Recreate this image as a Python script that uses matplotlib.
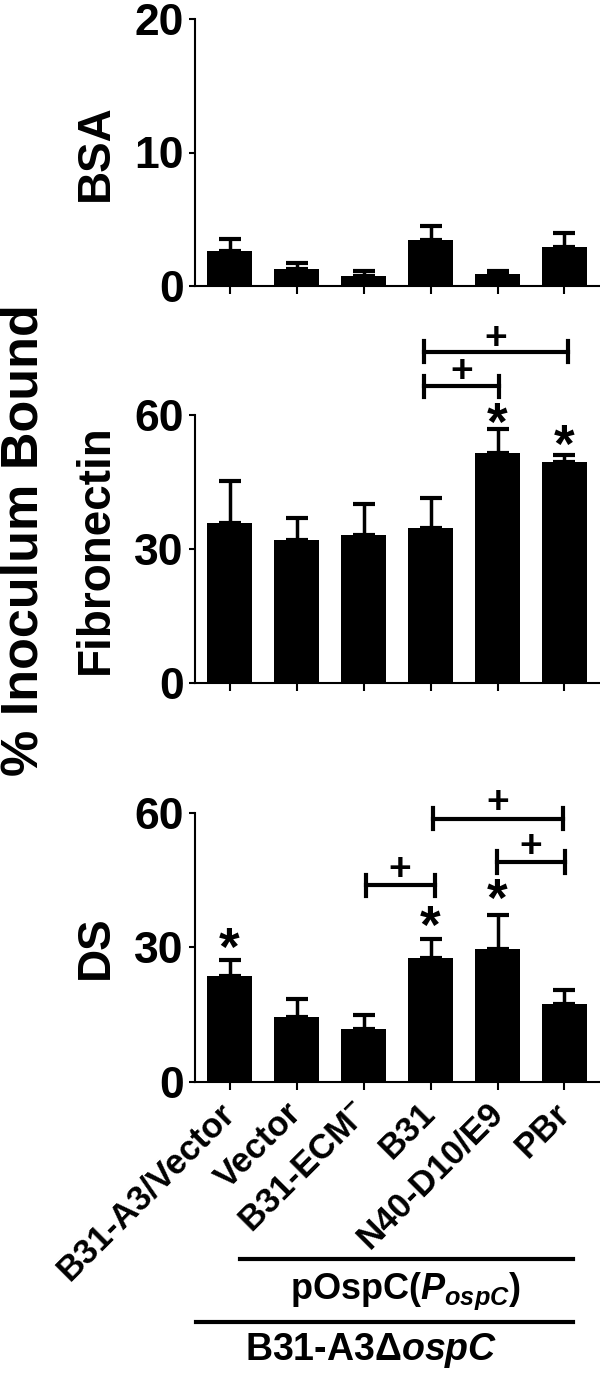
import numpy as np
import matplotlib
matplotlib.use("Agg")
from matplotlib import pyplot as plt
from matplotlib import transforms

plt.rcParams['font.family'] = ['Liberation Sans', 'DejaVu Sans']
plt.rcParams['font.weight'] = 'bold'
plt.rcParams['mathtext.fontset'] = 'custom'
plt.rcParams['mathtext.rm'] = 'Liberation Sans:bold'
plt.rcParams['mathtext.it'] = 'Liberation Sans:italic:bold'
plt.rcParams['mathtext.bf'] = 'Liberation Sans:bold'

# strains on the x axis
strains = ['B31-A3/Vector', 'Vector', 'B31-ECM$^{-}$', 'B31', 'N40-D10/E9', 'PBr']

# mean % inoculum bound and upper SD for each substrate
bsa_mean = [2.6, 1.3, 0.75, 3.45, 0.9, 2.9]
bsa_err = [0.9, 0.45, 0.4, 1.05, 0.2, 1.1]
fn_mean = [35.9, 31.9, 33.2, 34.7, 51.5, 49.4]
fn_err = [9.2, 5.1, 6.9, 6.7, 5.4, 1.7]
ds_mean = [23.6, 14.5, 11.8, 27.7, 29.6, 17.4]
ds_err = [3.5, 3.9, 3.1, 4.2, 7.5, 3.0]

# significance marks: stars (bar index, y) and brackets (x0, x1, y, plus y)
fn_stars = [(4, 59.9), (5, 55.0)]
fn_brackets = [(2.9, 4.02, 66.4, 70.4), (2.9, 5.05, 74.2, 77.8)]
ds_stars = [(0, 31.5), (3, 36.4), (4, 42.3)]
ds_brackets = [(2.03, 3.06, 43.8, 47.9), (3.03, 4.98, 58.7, 62.8), (3.99, 5.01, 49.0, 53.0)]

W, H = 600, 1373
fig = plt.figure(figsize=(W / 100, H / 100), dpi=100)


def panel(top, bottom, mean, err, ymax, yticks, label):
    ax = fig.add_axes([195 / W, 1 - bottom / H, 405 / W, (bottom - top) / H])
    x = np.arange(len(mean))
    ax.bar(x, mean, width=0.66, color='black', zorder=2)
    ax.errorbar(x, mean, yerr=[np.zeros(len(err)), err], fmt='none', ecolor='black',
                elinewidth=2.5, capsize=8, capthick=3, zorder=1)
    ax.set_xlim(-0.516, 5.53)
    ax.set_ylim(0, ymax)
    ax.set_yticks(yticks)
    ax.set_yticklabels([str(t) for t in yticks], fontsize=32, fontweight='bold')
    ax.set_xticks(x)
    ax.set_xticklabels([])
    for s in ['top', 'right']:
        ax.spines[s].set_visible(False)
    for s in ['left', 'bottom']:
        ax.spines[s].set_linewidth(1.5)
    ax.tick_params(axis='y', length=4, width=1.5, pad=4)
    ax.tick_params(axis='x', length=6, width=1.5)
    ax.set_ylabel(label, fontsize=33, fontweight='bold')
    ax.yaxis.set_label_coords(-0.19, 0.5)
    return ax


def marks(ax, stars, brackets):
    star_tr = transforms.offset_copy(ax.transData, fig=fig, y=-17.5, units='points')
    plus_tr = transforms.offset_copy(ax.transData, fig=fig, y=-9.5, units='points')
    for i, y in stars:
        ax.text(i, y, '*', fontsize=38, fontweight='bold', ha='center', va='baseline',
                transform=star_tr, clip_on=False)
    for x0, x1, y, py in brackets:
        ax.plot([x0, x1], [y, y], color='black', lw=3, clip_on=False)
        for xe in (x0, x1):
            ax.plot([xe, xe], [y - 2.4, y + 2.4], color='black', lw=3, clip_on=False)
        ax.text((x0 + x1) / 2, py, '+', fontsize=28, fontweight='bold', ha='center',
                va='baseline', transform=plus_tr, clip_on=False)


ax1 = panel(19, 286, bsa_mean, bsa_err, 20, [0, 10, 20], 'BSA')
ax2 = panel(415, 682.7, fn_mean, fn_err, 60, [0, 30, 60], 'Fibronectin')
marks(ax2, fn_stars, fn_brackets)
ax3 = panel(812.7, 1081.7, ds_mean, ds_err, 60, [0, 30, 60], 'DS')
marks(ax3, ds_stars, ds_brackets)

ax3.set_xticklabels(strains, rotation=45, ha='right', va='center', rotation_mode='anchor',
                    fontsize=25, fontweight='bold')
ax3.tick_params(axis='x', pad=13)

fig.text(24 / W, 1 - 540 / H, '% Inoculum Bound', rotation=90, fontsize=37.5,
         fontweight='bold', ha='center', va='center')

# group bars under the strain labels
fig.add_artist(plt.Line2D([240 / W, 573 / W], [1 - 1259 / H] * 2, color='black', lw=3))
fig.text(406 / W, 1 - 1291 / H, 'pOspC($P_{ospC}$)', fontsize=26, fontweight='bold',
         ha='center', va='center')
fig.add_artist(plt.Line2D([196 / W, 573 / W], [1 - 1322 / H] * 2, color='black', lw=3))
fig.text(371 / W, 1 - 1350 / H, 'B31-A3\u0394$ospC$', fontsize=27, fontweight='bold',
         ha='center', va='center')

fig.savefig('out.png', dpi=100)
